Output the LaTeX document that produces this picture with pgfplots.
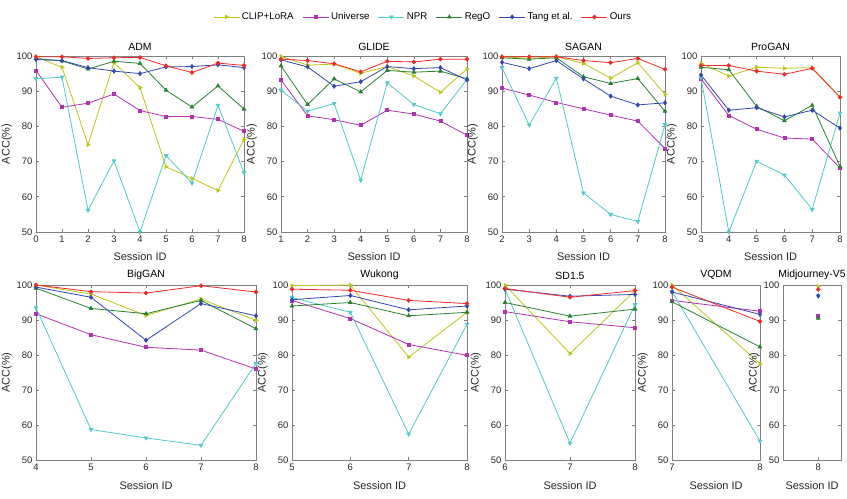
\documentclass[border=0pt]{standalone}
\usepackage{fontspec}
\setmainfont{Liberation Sans}
\usepackage{pgfplots}
\pgfplotsset{compat=1.18}

\definecolor{cClip}{RGB}{190,198,25}
\definecolor{cUni}{RGB}{176,50,176}
\definecolor{cNpr}{RGB}{80,202,202}
\definecolor{cRego}{RGB}{40,130,50}
\definecolor{cTang}{RGB}{50,70,180}
\definecolor{cOurs}{RGB}{245,40,40}
\definecolor{frame}{RGB}{128,128,128}

\pgfplotsset{
  panel/.style={
    scale only axis, anchor=south west,
    ymin=50, ymax=100, ytick={50,60,...,100},
    xtick distance=1,
    tick align=inside, major tick length=3bp,
    axis line style={draw=frame, line width=0.9bp},
    every tick/.style={frame, line width=0.6bp},
    tick label style={font=\fontsize{9.5}{10}\selectfont, text=black!85},
    label style={font=\fontsize{11}{12}\selectfont, text=black!85},
    title style={font=\fontsize{10.5}{11}\selectfont, yshift=-4bp},
    xlabel={Session ID}, ylabel={ACC(\%)},
    xlabel style={yshift=-4bp}, ylabel style={yshift=-2bp},
    /pgf/number format/assume math mode=true,
    every axis plot/.append style={line width=0.8bp, mark size=2bp},
    clip=false,
  },
  sClip/.style={color=cClip, mark=triangle*, mark options={rotate=-90}},
  sUni/.style={color=cUni, mark=square*, mark options={scale=0.75}},
  sNpr/.style={color=cNpr, mark=triangle*, mark options={rotate=180}},
  sRego/.style={color=cRego, mark=triangle*},
  sTang/.style={color=cTang, mark=diamond*},
  sOurs/.style={color=cOurs, mark=*, mark options={scale=0.9}},
}

\begin{document}
\begin{tikzpicture}
\useasboundingbox (0,0) rectangle (847bp,499bp);

% ---------------- top row ----------------
\begin{axis}[panel, at={(36bp,267bp)}, width=208bp, height=176bp,
  xmin=0, xmax=8, title={ADM},
  legend style={at={(1.861,1.222)}, anchor=center, draw=none, fill=none,
    legend columns=6, font=\fontsize{9.8}{10}\selectfont,
    /tikz/every even column/.append style={column sep=6.5bp},
    /tikz/every odd column/.append style={column sep=0bp}},
  legend image code/.code={\draw[mark repeat=2,mark phase=2,#1]
    plot coordinates {(0bp,0bp)(13bp,0bp)(26bp,0bp)};}]
\addplot[sClip] coordinates {(0,99.8)(1,96.8)(2,74.8)(3,98.1)(4,91.0)(5,68.5)(6,65.2)(7,61.8)(8,76.3)};
\addlegendentry{CLIP+LoRA}
\addplot[sUni] coordinates {(0,95.9)(1,85.4)(2,86.6)(3,89.2)(4,84.5)(5,82.8)(6,82.8)(7,82.0)(8,78.6)};
\addlegendentry{Universe}
\addplot[sNpr] coordinates {(0,93.5)(1,94.0)(2,56.2)(3,70.2)(4,50.0)(5,71.7)(6,63.9)(7,86.0)(8,66.8)};
\addlegendentry{NPR}
\addplot[sRego] coordinates {(0,99.3)(1,98.6)(2,96.3)(3,98.5)(4,97.9)(5,90.3)(6,85.5)(7,91.5)(8,84.9)};
\addlegendentry{RegO}
\addplot[sTang] coordinates {(0,99.0)(1,98.7)(2,96.7)(3,95.7)(4,95.0)(5,96.9)(6,97.0)(7,97.5)(8,96.7)};
\addlegendentry{Tang et al.}
\addplot[sOurs] coordinates {(0,99.8)(1,99.8)(2,99.3)(3,99.5)(4,99.6)(5,97.2)(6,95.3)(7,98.0)(8,97.3)};
\addlegendentry{Ours}
\end{axis}

\begin{axis}[panel, at={(281bp,267bp)}, width=186bp, height=176bp,
  xmin=1, xmax=8, title={GLIDE}]
\addplot[sClip] coordinates {(1,99.9)(2,97.4)(3,97.7)(4,95.1)(5,97.0)(6,94.3)(7,89.7)(8,96.3)};
\addplot[sUni] coordinates {(1,93.2)(2,83.0)(3,81.9)(4,80.3)(5,84.6)(6,83.5)(7,81.5)(8,77.5)};
\addplot[sNpr] coordinates {(1,90.3)(2,84.3)(3,86.5)(4,64.7)(5,92.4)(6,86.2)(7,83.6)(8,93.4)};
\addplot[sRego] coordinates {(1,97.2)(2,86.2)(3,93.5)(4,89.8)(5,95.9)(6,95.4)(7,95.7)(8,93.5)};
\addplot[sTang] coordinates {(1,98.9)(2,96.9)(3,91.4)(4,92.7)(5,97.0)(6,96.4)(7,96.7)(8,93.2)};
\addplot[sOurs] coordinates {(1,99.1)(2,98.7)(3,97.8)(4,95.5)(5,98.5)(6,98.3)(7,99.1)(8,99.1)};
\end{axis}

\begin{axis}[panel, at={(502bp,267bp)}, width=163bp, height=176bp,
  xmin=2, xmax=8, title={SAGAN}]
\addplot[sClip] coordinates {(2,99.8)(3,99.3)(4,99.8)(5,97.9)(6,93.7)(7,98.1)(8,89.1)};
\addplot[sUni] coordinates {(2,90.9)(3,88.9)(4,86.8)(5,85.0)(6,83.2)(7,81.5)(8,73.7)};
\addplot[sNpr] coordinates {(2,96.7)(3,80.4)(4,93.7)(5,61.1)(6,55.0)(7,53.0)(8,80.5)};
\addplot[sRego] coordinates {(2,99.5)(3,99.1)(4,99.5)(5,94.1)(6,92.2)(7,93.6)(8,84.3)};
\addplot[sTang] coordinates {(2,98.2)(3,96.4)(4,98.7)(5,93.5)(6,88.6)(7,86.1)(8,86.7)};
\addplot[sOurs] coordinates {(2,99.8)(3,99.8)(4,99.8)(5,98.7)(6,98.1)(7,99.3)(8,96.2)};
\end{axis}

\begin{axis}[panel, at={(701bp,267bp)}, width=139bp, height=176bp,
  xmin=3, xmax=8, title={ProGAN}]
\addplot[sClip] coordinates {(3,97.9)(4,94.3)(5,96.8)(6,96.5)(7,96.7)(8,88.3)};
\addplot[sUni] coordinates {(3,93.5)(4,83.1)(5,79.2)(6,76.7)(7,76.4)(8,68.2)};
\addplot[sNpr] coordinates {(3,93.8)(4,50.0)(5,70.1)(6,66.2)(7,56.4)(8,83.8)};
\addplot[sRego] coordinates {(3,96.8)(4,96.1)(5,85.7)(6,81.6)(7,86.0)(8,68.6)};
\addplot[sTang] coordinates {(3,94.6)(4,84.6)(5,85.3)(6,82.7)(7,84.6)(8,79.5)};
\addplot[sOurs] coordinates {(3,97.3)(4,97.3)(5,95.7)(6,94.8)(7,96.5)(8,88.3)};
\end{axis}

% ---------------- bottom row ----------------
\begin{axis}[panel, at={(36bp,39bp)}, width=220bp, height=175bp,
  xmin=4, xmax=8, title={BigGAN}]
\addplot[sClip] coordinates {(4,100)(5,97.4)(6,91.3)(7,96.0)(8,89.9)};
\addplot[sUni] coordinates {(4,91.8)(5,85.8)(6,82.2)(7,81.4)(8,76.0)};
\addplot[sNpr] coordinates {(4,93.5)(5,58.7)(6,56.3)(7,54.2)(8,77.6)};
\addplot[sRego] coordinates {(4,99.1)(5,93.3)(6,91.8)(7,95.6)(8,87.5)};
\addplot[sTang] coordinates {(4,99.4)(5,96.5)(6,84.2)(7,94.7)(8,91.2)};
\addplot[sOurs] coordinates {(4,100)(5,98.1)(6,97.7)(7,99.8)(8,98.0)};
\end{axis}

\begin{axis}[panel, at={(292bp,39bp)}, width=175bp, height=175bp,
  xmin=5, xmax=8, title={Wukong}]
\addplot[sClip] coordinates {(5,99.8)(6,100)(7,79.4)(8,92.2)};
\addplot[sUni] coordinates {(5,95.6)(6,90.4)(7,83.0)(8,79.9)};
\addplot[sNpr] coordinates {(5,96.4)(6,92.2)(7,57.4)(8,88.8)};
\addplot[sRego] coordinates {(5,94.0)(6,95.0)(7,91.2)(8,92.2)};
\addplot[sTang] coordinates {(5,95.8)(6,97.0)(7,92.9)(8,94.0)};
\addplot[sOurs] coordinates {(5,98.8)(6,98.5)(7,95.6)(8,94.7)};
\end{axis}

\begin{axis}[panel, at={(505bp,39bp)}, width=130bp, height=175bp,
  xmin=6, xmax=8, title={SD1.5}]
\addplot[sClip] coordinates {(6,100)(7,80.4)(8,98.4)};
\addplot[sUni] coordinates {(6,92.4)(7,89.5)(8,87.8)};
\addplot[sNpr] coordinates {(6,98.8)(7,54.8)(8,94.4)};
\addplot[sRego] coordinates {(6,95.0)(7,91.1)(8,93.1)};
\addplot[sTang] coordinates {(6,98.8)(7,96.8)(8,97.3)};
\addplot[sOurs] coordinates {(6,99.0)(7,96.5)(8,98.4)};
\end{axis}

\begin{axis}[panel, at={(672bp,39bp)}, width=88bp, height=175bp,
  xmin=7, xmax=8, title={VQDM}]
\addplot[sClip] coordinates {(7,100)(8,77.5)};
\addplot[sUni] coordinates {(7,95.6)(8,92.5)};
\addplot[sNpr] coordinates {(7,98.2)(8,55.4)};
\addplot[sRego] coordinates {(7,95.2)(8,82.3)};
\addplot[sTang] coordinates {(7,98.0)(8,91.6)};
\addplot[sOurs] coordinates {(7,99.4)(8,89.6)};
\end{axis}

\begin{axis}[panel, at={(783bp,39bp)}, width=58bp, height=175bp,
  xmin=7.35, xmax=8.42, xtick={8}, title={Midjourney-V5}]
\addplot[sClip] coordinates {(8,99.6)};
\addplot[sUni] coordinates {(8,91.2)};
\addplot[sNpr] coordinates {(8,96.9)};
\addplot[sRego] coordinates {(8,90.5)};
\addplot[sTang] coordinates {(8,96.9)};
\addplot[sOurs] coordinates {(8,98.7)};
\end{axis}
\end{tikzpicture}
\end{document}
